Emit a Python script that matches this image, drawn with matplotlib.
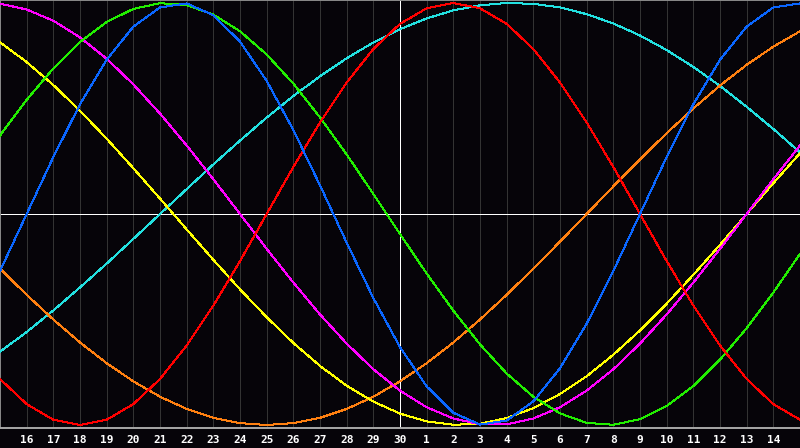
import matplotlib
matplotlib.use("Agg")
from matplotlib import pyplot as plt

# day labels under the 29 grid lines
day_labels = ["16", "17", "18", "19", "20", "21", "22", "23", "24", "25",
              "26", "27", "28", "29", "30", "1", "2", "3", "4", "5",
              "6", "7", "8", "9", "10", "11", "12", "13", "14"]
days = list(range(0, 31))

# cycle values read at each day line (left edge = 0, right edge = 30)
physical = [-0.27, 0.0, 0.27, 0.52, 0.731, 0.888, 0.979, 0.998, 0.942, 0.817,
            0.631, 0.398, 0.136, -0.136, -0.398, -0.631, -0.817, -0.942, -0.998, -0.979,
            -0.888, -0.731, -0.52, -0.27, 0.0, 0.27, 0.52, 0.731, 0.888, 0.979, 0.998]
emotional = [-0.782, -0.901, -0.975, -1.0, -0.975, -0.901, -0.782, -0.623, -0.434, -0.223,
             0.0, 0.223, 0.434, 0.623, 0.782, 0.901, 0.975, 1.0, 0.975, 0.901,
             0.782, 0.623, 0.434, 0.223, 0.0, -0.223, -0.434, -0.623, -0.782, -0.901, -0.975]
intellectual = [0.372, 0.541, 0.69, 0.815, 0.91, 0.972, 0.999, 0.99, 0.945, 0.866,
                0.756, 0.618, 0.458, 0.282, 0.095, -0.095, -0.282, -0.458, -0.618, -0.756,
                -0.866, -0.945, -0.99, -0.999, -0.972, -0.91, -0.815, -0.69, -0.541, -0.372, -0.189]
intuitive = [0.997, 0.969, 0.916, 0.837, 0.736, 0.614, 0.476, 0.325, 0.165, 0.0,
             -0.165, -0.325, -0.476, -0.614, -0.736, -0.837, -0.916, -0.969, -0.997, -0.997,
             -0.969, -0.916, -0.837, -0.736, -0.614, -0.476, -0.325, -0.165, 0.0, 0.165, 0.325]
aesthetic = [0.814, 0.72, 0.611, 0.489, 0.357, 0.217, 0.073, -0.073, -0.217, -0.357,
             -0.489, -0.611, -0.72, -0.814, -0.889, -0.946, -0.983, -0.999, -0.994, -0.967,
             -0.92, -0.853, -0.769, -0.667, -0.552, -0.425, -0.288, -0.146, 0.0, 0.146, 0.288]
awareness = [-0.259, -0.383, -0.5, -0.609, -0.707, -0.793, -0.866, -0.924, -0.966, -0.991,
             -1.0, -0.991, -0.966, -0.924, -0.866, -0.793, -0.707, -0.609, -0.5, -0.383,
             -0.259, -0.131, 0.0, 0.131, 0.259, 0.383, 0.5, 0.609, 0.707, 0.793, 0.866]
spiritual = [-0.653, -0.559, -0.457, -0.348, -0.235, -0.118, 0.0, 0.118, 0.235, 0.348,
             0.457, 0.559, 0.653, 0.738, 0.813, 0.876, 0.927, 0.965, 0.989, 1.0,
             0.996, 0.979, 0.947, 0.903, 0.846, 0.777, 0.697, 0.607, 0.508, 0.403, 0.292]

series = [
    (spiritual, "#22e0e0"),
    (awareness, "#ff8010"),
    (aesthetic, "#ffff00"),
    (intuitive, "#ff00ff"),
    (intellectual, "#22ee00"),
    (emotional, "#ff0000"),
    (physical, "#0a66ff"),
]

px = 0.72  # one pixel in points at 100 dpi
bg = "#060409"
fig = plt.figure(figsize=(8, 4.48), dpi=100, facecolor=bg)
ax = fig.add_axes([0, 20 / 448, 1, 428 / 448])
ax.set_facecolor(bg)

for d in range(1, 30):
    ax.axvline(d, color="#333333", lw=px, zorder=1, antialiased=False)
ax.axvline(15, color="white", lw=px, zorder=2, antialiased=False)
ax.axhline(0, color="white", lw=px, zorder=2, antialiased=False)

for vals, col in series:
    ax.plot(days, vals, color=col, lw=px, zorder=3, antialiased=False)

ax.set_xlim(0, 30)
ax.set_ylim(-1.0142, 1.0142)

ax.set_xticks(range(1, 30))
ax.set_xticklabels(day_labels, family="DejaVu Sans Mono", fontweight="bold",
                   fontsize=8, color="white")
ax.tick_params(axis="x", length=0, pad=5)
ax.set_yticks([])

for side in ["left", "top"]:
    ax.spines[side].set_color("#8a8a8a")
    ax.spines[side].set_linewidth(1.4)
ax.spines["bottom"].set_color("#a8a8a8")
ax.spines["bottom"].set_linewidth(1.4)
ax.spines["right"].set_visible(False)

fig.savefig("out.png", dpi=100, facecolor=bg)
